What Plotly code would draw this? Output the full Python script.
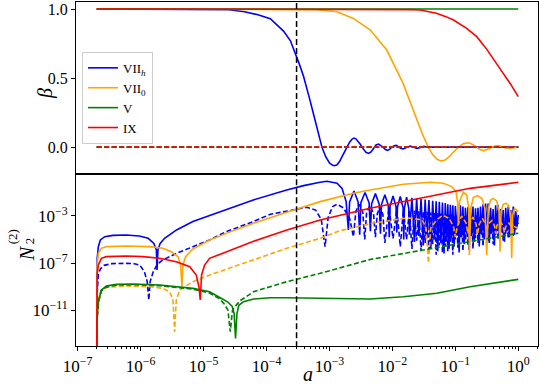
import numpy as np
import plotly.graph_objects as go
from plotly.subplots import make_subplots

# models and colours
models = ["VII<sub><i>h</i></sub>", "VII<sub>0</sub>", "V", "IX"]
colors = ["#0000ff", "#ffa500", "#008000", "#ff0000"]
a_mark = 3e-4  # vertical dashed marker

# ---- top panel: beta(a), x given as log10(a) ----
beta_VIIh_x = [-6.699, -5.0, -4.6, -4.35, -4.15, -3.94, -3.73, -3.62, -3.53, -3.47, -3.41, -3.36,
               -3.31, -3.26, -3.2, -3.16, -3.12, -3.06, -3.0, -2.95, -2.92, -2.88, -2.84, -2.8,
               -2.76, -2.72, -2.68, -2.64, -2.61, -2.58, -2.54, -2.51, -2.46, -2.42, -2.38, -2.34,
               -2.3, -2.26, -2.22, -2.18, -2.15, -2.11, -2.08, -2.04, -2.01, -1.97, -1.94, -1.91,
               -1.87, -1.83, -1.79, -1.75, -1.72, -1.68, -1.64, -1.61, -1.57, -1.53, -1.5, -1.46,
               -1.42, -1.38, -1.3, -1.2, 0.0]
beta_VIIh_y = [1.0, 1.0, 0.995, 0.98, 0.96, 0.93, 0.84, 0.77, 0.67, 0.59, 0.51, 0.43,
               0.34, 0.25, 0.15, 0.07, 0.0, -0.07, -0.115, -0.132, -0.135, -0.128, -0.105, -0.07,
               -0.035, 0.0, 0.035, 0.058, 0.065, 0.06, 0.04, 0.02, -0.015, -0.038, -0.046, -0.035,
               -0.01, 0.015, 0.022, 0.012, 0.0, -0.018, -0.024, -0.015, 0.0, 0.01, 0.012, 0.005,
               -0.008, -0.014, -0.006, 0.004, 0.007, 0.002, -0.006, -0.01, -0.004, 0.003, 0.005, 0.0,
               -0.004, 0.0, 0.002, 0.0, 0.0]
beta_VII0_x = [-6.699, -4.0, -3.41, -3.2, -2.88, -2.62, -2.35, -2.09, -1.83, -1.72, -1.61, -1.52,
               -1.43, -1.36, -1.29, -1.23, -1.17, -1.11, -1.06, -1.0, -0.95, -0.87, -0.79, -0.72,
               -0.66, -0.6, -0.55, -0.49, -0.42, -0.37, -0.32, -0.27, -0.2, -0.13, -0.07, 0.0]
beta_VII0_y = [1.0, 1.0, 1.0, 0.995, 0.981, 0.932, 0.848, 0.703, 0.461, 0.33, 0.196, 0.09,
               0.0, -0.055, -0.088, -0.1, -0.095, -0.075, -0.05, -0.022, 0.0, 0.025, 0.031, 0.018,
               0.0, -0.02, -0.027, -0.018, -0.002, 0.008, 0.011, 0.005, -0.006, -0.01, -0.004, 0.0]
beta_V_x = [-6.699, 0.0]
beta_V_y = [1.0, 1.0]
beta_IX_x = [-6.699, -2.5, -2.0, -1.7, -1.56, -1.3, -1.15, -1.03, -0.82, -0.66, -0.5, -0.34,
             -0.24, -0.13, 0.0]
beta_IX_y = [1.0, 1.0, 0.998, 0.996, 0.993, 0.97, 0.945, 0.92, 0.86, 0.8, 0.708, 0.606,
             0.534, 0.461, 0.365]
beta_zero_x = [-6.699, 0.0]
beta_zero_y = [0.0, 0.0]

# ---- bottom panel: N_2^(2)(a), log10(a) vs log10(N) ----
nVIIh_x = [-6.699, -6.69, -6.672, -6.64, -6.57, -6.44, -6.23, -6.02, -5.88, -5.79, -5.75, -5.74,
           -5.725, -5.69, -5.62, -5.43, -5.17, -4.905, -4.64, -4.21, -3.68, -3.41, -3.15, -3.04,
           -2.88, -2.8, -2.735, -2.7,
           -2.68, -2.61, -2.545, -2.52, -2.5, -2.435, -2.37, -2.35, -2.33, -2.27, -2.21, -2.19,
           -2.175, -2.12, -2.065, -2.05, -2.037, -1.99, -1.943, -1.93, -1.92, -1.875, -1.83, -1.82,
           -1.81, -1.775, -1.74, -1.73, -1.69, -1.65, -1.615, -1.58, -1.545, -1.51, -1.48, -1.45,
           -1.42, -1.39, -1.36, -1.33, -1.305, -1.28, -1.255, -1.23, -1.205, -1.18, -1.16, -1.14,
           -1.12, -1.1,
           -1.08, -1.06, -1.04, -1.02, -1.0, -0.98, -0.96, -0.94, -0.92, -0.9, -0.88, -0.86,
           -0.84, -0.82, -0.8, -0.78, -0.76, -0.74, -0.72, -0.7, -0.68, -0.66, -0.64, -0.62,
           -0.6, -0.58, -0.56, -0.54, -0.52, -0.5, -0.48, -0.46, -0.44, -0.42, -0.4, -0.38,
           -0.36, -0.34, -0.32, -0.3, -0.28, -0.26, -0.24, -0.22, -0.2, -0.18, -0.16, -0.14,
           -0.12, -0.1, -0.08, -0.06, -0.04, -0.02, 0.0]
nVIIh_y = [-16.0, -6.6, -5.61, -5.04, -4.76, -4.65, -4.62, -4.7, -4.9, -5.33, -5.89, -7.6,
           -5.89, -5.33, -4.9, -4.19, -3.48, -2.97, -2.43, -1.64, -0.79, -0.42, -0.13, -0.05,
           -0.22, -0.65, -1.78, -4.19,
           -1.8, -0.87, -1.8, -4.6, -1.85, -1.0, -1.9, -4.3, -1.95, -1.1, -2.0, -4.5,
           -2.05, -1.2, -2.1, -4.8, -2.15, -1.3, -2.2, -4.4, -2.25, -1.35, -2.3, -5.0,
           -2.35, -1.4, -2.35, -4.6, -1.45, -5.2, -1.5, -4.7, -1.55, -5.5, -1.6, -4.9,
           -1.65, -5.8, -1.7, -5.0, -1.75, -6.0, -1.8, -5.3, -1.85, -6.2, -1.9, -5.2,
           -2.0, -5.8,
           -2.05, -4.9, -2.1, -5.6, -2.15, -4.6, -2.2, -6.1, -2.1, -4.8, -2.2, -5.4,
           -2.3, -4.5, -2.25, -5.9, -2.3, -4.7, -2.2, -5.2, -2.35, -4.4, -2.3, -5.6,
           -2.2, -4.6, -2.0, -5.0, -1.95, -4.3, -1.95, -5.3, -2.3, -4.5, -2.4, -5.5,
           -2.1, -4.2, -2.05, -4.9, -2.4, -4.4, -2.5, -5.2, -2.3, -4.3, -2.2, -4.8,
           -2.5, -4.1, -2.2, -4.6, -2.6, -3.9, -2.9]

nVIIh_d_x = [-6.699, -6.69, -6.672, -6.64, -6.58, -6.45, -6.25, -6.1, -6.015, -5.94, -5.895, -5.87,
             -5.85, -5.8, -5.74, -5.65, -5.43, -5.17, -4.905, -4.64, -4.21, -3.94, -3.52, -3.36,
             -3.22, -3.13, -3.07, -3.02, -2.95, -2.88, -2.78, -2.68, -2.62, -2.58, -2.53, -2.47,
             -2.44, -2.41, -2.355, -2.3, -2.27, -2.24, -2.195, -2.15, -2.12, -2.055, -1.99, -1.93,
             -1.875, -1.825, -1.775, -1.73, -1.69, -1.65, -1.615, -1.58, -1.545, -1.51, -1.48, -1.45,
             -1.42, -1.39, -1.36, -1.33, -1.305, -1.28, -1.255, -1.23, -1.205, -1.18, -1.16, -1.14,
             -1.12, -1.1, -1.08, -1.06, -1.04, -1.02, -1.0, -0.98, -0.96, -0.94, -0.92, -0.9,
             -0.88, -0.86, -0.84, -0.82, -0.8, -0.78, -0.76, -0.74, -0.72, -0.7, -0.68, -0.66,
             -0.64, -0.62, -0.6, -0.58, -0.56, -0.54, -0.52, -0.5, -0.48, -0.46, -0.44, -0.42,
             -0.4, -0.38, -0.36, -0.34, -0.32, -0.3, -0.28, -0.26, -0.24, -0.22, -0.2, -0.18,
             -0.16, -0.14, -0.12, -0.1, -0.08, -0.06, -0.04, -0.02, 0.0]
nVIIh_d_y = [-16.0, -9.5, -8.0, -7.5, -7.2, -7.05, -7.03, -7.06, -7.17, -7.74, -8.6, -10.15,
             -8.6, -7.74, -7.15, -6.74, -6.18, -5.61, -5.04, -4.33, -3.48, -2.86, -2.43, -2.26,
             -2.5, -3.3, -5.61, -3.1, -2.2, -2.01, -2.3, -3.2, -4.76, -2.6, -2.0, -2.7,
             -5.0, -2.7, -2.1, -2.8, -4.8, -2.8, -2.2, -2.9, -5.3, -2.3, -4.9, -2.4,
             -5.6, -2.45, -5.0, -2.5, -5.8, -2.55, -5.1, -2.6, -6.0, -2.6, -5.3, -2.65,
             -6.2, -2.7, -5.4, -2.7, -6.3, -2.75, -5.5, -2.8, -6.1, -2.8, -5.6, -2.85,
             -6.0, -2.9, -5.2, -2.8, -6.3, -3.0, -5.0, -2.9, -5.7, -3.1, -4.8, -2.9,
             -6.0, -3.0, -5.1, -3.1, -5.5, -2.9, -4.7, -3.0, -5.8, -3.2, -4.9, -3.0,
             -5.3, -3.1, -4.6, -3.2, -5.6, -3.0, -4.8, -3.1, -5.2, -3.3, -4.5, -3.1,
             -5.4, -3.2, -4.6, -3.3, -5.0, -3.1, -4.4, -3.2, -5.1, -3.4, -4.5, -3.2,
             -4.9, -3.3, -4.3, -3.4, -4.7, -3.3, -4.2, -3.5, -3.7]

nVII0_x = [-6.699, -6.69, -6.672, -6.624, -6.545, -6.227, -5.857, -5.645, -5.513, -5.407, -5.365,
           -5.344, -5.328, -5.286, -5.17, -4.905, -4.64, -4.206, -3.677, -3.148, -2.62, -2.354,
           -1.825, -1.4, -1.19, -1.058, -0.99, -0.965, -0.952, -0.935, -0.873, -0.82, -0.788,
           -0.777, -0.756, -0.714, -0.65, -0.58, -0.529, -0.502, -0.476, -0.44, -0.396, -0.343,
           -0.306, -0.29, -0.275, -0.238, -0.195, -0.153, -0.121, -0.105, -0.09, -0.058, -0.026,
           0.0]
nVII0_y = [-16.0, -7.2, -6.18, -5.75, -5.61, -5.55, -5.61, -5.75, -6.04, -6.46, -7.17,
           -9.02, -7.17, -6.46, -5.81, -5.04, -4.48, -3.62, -2.69, -1.78, -1.07, -0.79,
           -0.3, -0.135, -0.22, -0.5, -0.93, -1.8, -3.77, -1.78, -0.99, -1.21, -2.35,
           -6.32, -2.35, -1.44, -1.27, -1.5, -2.35, -6.32, -2.35, -1.64, -1.5, -1.72,
           -2.63, -6.04, -2.63, -2.01, -1.92, -2.12, -2.91, -6.6, -2.91, -2.35, -2.49,
           -2.63]
nVII0_d_x = [-6.699, -6.69, -6.672, -6.624, -6.545, -6.227, -5.857, -5.645, -5.54, -5.487, -5.46,
             -5.434, -5.38, -5.17, -4.905, -4.64, -4.206, -3.677, -3.148, -2.83, -2.35, -1.77,
             -1.53, -1.465, -1.428, -1.39, -1.295, -1.2, -1.1, -1.03, -1.0, -0.97, -0.9,
             -0.83, -0.8, -0.77, -0.72, -0.67, -0.65, -0.62, -0.57, -0.52, -0.5, -0.48,
             -0.42, -0.38, -0.36, -0.34, -0.28, -0.24, -0.22, -0.2, -0.15, -0.11, -0.09,
             -0.07, 0.0]
nVII0_d_y = [-16.0, -11.5, -10.0, -9.3, -9.07, -8.96, -9.02, -9.16, -9.44, -10.15, -12.84,
             -10.15, -9.3, -8.59, -8.02, -7.54, -6.74, -5.75, -4.9, -4.25, -3.65, -3.17,
             -3.31, -4.02, -7.0, -4.02, -3.31, -2.95, -3.2, -3.9, -4.8, -3.9, -3.0,
             -3.6, -4.5, -3.6, -3.1, -3.7, -4.6, -3.7, -3.2, -3.7, -4.3, -3.7,
             -3.4, -3.8, -4.5, -3.8, -3.5, -3.9, -4.4, -3.9, -3.6, -3.9, -4.3,
             -3.9, -4.05]

nV_x = [-6.699, -6.69, -6.672, -6.624, -6.545, -6.386, -6.12, -5.7, -5.17, -4.905, -4.735, -4.62,
        -4.545, -4.515, -4.492, -4.47, -4.44, -4.365, -4.206, -3.94, -3.677, -3.148, -2.354,
        -1.825, -1.295, -0.766, 0.0]
nV_y = [-16.0, -11.5, -10.29, -9.3, -8.96, -8.82, -8.79, -8.87, -9.16, -9.44, -9.95, -10.3,
        -10.7, -11.3, -13.41, -11.3, -10.6, -10.29, -10.06, -9.95, -9.95, -10.0, -10.06,
        -9.87, -9.58, -9.02, -8.39]
nV_d_x = [-6.699, -6.69, -6.672, -6.624, -6.545, -6.386, -6.12, -5.7, -5.17, -4.905, -4.76, -4.68,
          -4.613, -4.576, -4.54, -4.5, -4.418, -4.206, -3.677, -3.148, -2.354, -1.454, -0.766, 0.0]
nV_d_y = [-16.0, -11.8, -10.4, -9.4, -9.05, -8.88, -8.85, -8.93, -9.22, -9.55, -10.0, -10.43,
          -11.0, -12.84, -11.0, -10.7, -10.2, -9.44, -8.59, -7.88, -6.7, -5.81, -5.18, -4.47]

nIX_x = [-6.699, -6.69, -6.672, -6.624, -6.545, -6.227, -5.963, -5.7, -5.434, -5.22, -5.116, -5.074,
         -5.053, -5.032, -4.984, -4.905, -4.735, -4.206, -3.677, -3.148, -2.354, -1.825, -1.296,
         -0.767, 0.0]
nIX_y = [-16.0, -8.0, -7.17, -6.6, -6.46, -6.4, -6.46, -6.6, -6.89, -7.31, -8.02, -9.02,
         -10.15, -8.02, -7.17, -6.6, -6.25, -5.15, -4.2, -3.35, -2.35, -1.78, -1.21,
         -0.65, -0.135]

beta_curves = [(beta_VIIh_x, beta_VIIh_y), (beta_VII0_x, beta_VII0_y),
               (beta_V_x, beta_V_y), (beta_IX_x, beta_IX_y)]
n_curves = [(nVIIh_x, nVIIh_y, nVIIh_d_x, nVIIh_d_y),
            (nVII0_x, nVII0_y, nVII0_d_x, nVII0_d_y),
            (nV_x, nV_y, nV_d_x, nV_d_y),
            (nIX_x, nIX_y, None, None)]

def p10(v):
    return np.power(10.0, np.array(v, dtype=float))

DASH = "5px,2.5px"
LW = 1.6

fig = make_subplots(rows=2, cols=1, shared_xaxes=True, vertical_spacing=0)

for name, col, (bx, by) in zip(models, colors, beta_curves):
    fig.add_trace(go.Scatter(x=p10(bx), y=by, mode="lines", name=name,
                             line=dict(color=col, width=LW)), row=1, col=1)
    fig.add_trace(go.Scatter(x=p10(beta_zero_x), y=beta_zero_y, mode="lines", showlegend=False,
                             line=dict(color=col, width=LW, dash=DASH)), row=1, col=1)

for col, (sx, sy, dx, dy) in zip(colors, n_curves):
    fig.add_trace(go.Scatter(x=p10(sx), y=p10(sy), mode="lines", showlegend=False,
                             line=dict(color=col, width=LW)), row=2, col=1)
    if dx is not None:
        fig.add_trace(go.Scatter(x=p10(dx), y=p10(dy), mode="lines", showlegend=False,
                                 line=dict(color=col, width=LW, dash=DASH)), row=2, col=1)

# vertical marker in both panels
fig.add_trace(go.Scatter(x=[a_mark, a_mark], y=[-0.5, 1.5], mode="lines", showlegend=False,
                         line=dict(color="black", width=1.5, dash="6px,3px")), row=1, col=1)
fig.add_trace(go.Scatter(x=[a_mark, a_mark], y=[1e-18, 1e3], mode="lines", showlegend=False,
                         line=dict(color="black", width=1.5, dash="6px,3px")), row=2, col=1)

FONT = "Liberation Serif, DejaVu Serif, serif"
xr = [-7.027, 0.313]
axis_common = dict(showline=True, mirror=True, linecolor="black", linewidth=1,
                   showgrid=False, zeroline=False, tickcolor="black", automargin=False)

xt = [1e-7, 1e-6, 1e-5, 1e-4, 1e-3, 1e-2, 1e-1, 1e0]
xt_txt = ["10<sup>\u22127</sup>", "10<sup>\u22126</sup>", "10<sup>\u22125</sup>",
          "10<sup>\u22124</sup>", "10<sup>\u22123</sup>", "10<sup>\u22122</sup>",
          "10<sup>\u22121</sup>", "10<sup>0</sup>"]
minor_vals = [m * 10.0 ** e for e in range(-8, 1) for m in range(2, 10)]

fig.update_xaxes(type="log", range=xr, ticks="", showticklabels=False, row=1, col=1, **axis_common)
fig.update_xaxes(type="log", range=xr, tickmode="array", tickvals=xt, ticktext=xt_txt,
                 ticks="outside", ticklen=4, ticklabelstandoff=1,
                 tickfont=dict(family=FONT, size=17, color="black"),
                 minor=dict(tickmode="array", tickvals=minor_vals, ticks="outside",
                            ticklen=2, tickcolor="black"),
                 row=2, col=1, **axis_common)
fig.update_yaxes(range=[-0.195, 1.051], tickmode="array", tickvals=[0, 0.5, 1.0],
                 ticktext=["0.0", "0.5", "1.0"], ticks="outside", ticklen=4,
                 tickfont=dict(family=FONT, size=16, color="black"),
                 row=1, col=1, **axis_common)
fig.update_yaxes(type="log", range=[-14.06, 0.57], tickmode="array",
                 tickvals=[1e-11, 1e-7, 1e-3],
                 ticktext=["10<sup>\u221211</sup>", "10<sup>\u22127</sup>", "10<sup>\u22123</sup>"],
                 ticks="outside", ticklen=4,
                 tickfont=dict(family=FONT, size=17, color="black"),
                 row=2, col=1, **axis_common)

def label(x, y, text, size, angle=0):
    fig.add_annotation(x=x, y=y, text=text, textangle=angle, xref="paper", yref="paper",
                       showarrow=False, font=dict(family=FONT, size=size, color="black"))

label(-0.095, 0.756, "<i>\u03b2</i>", 20, -90)
label(-0.134, 0.241, "<i>N</i>", 20, -90)
label(-0.121, 0.290, "2", 13, -90)
label(-0.158, 0.290, "(2)", 13, -90)
label(0.502, -0.12, "<i>a</i>", 20)

fig.update_layout(
    width=540, height=388,
    margin=dict(l=76, r=2, t=2, b=42, autoexpand=False),
    plot_bgcolor="white", paper_bgcolor="white",
    legend=dict(x=0.013, y=0.855, xanchor="left", yanchor="top",
                bgcolor="rgba(255,255,255,0.8)", bordercolor="#cccccc", borderwidth=1,
                font=dict(family=FONT, size=13, color="black"), itemwidth=30,
                tracegroupgap=0),
)

# the page body has a default 8px margin; remove it so the figure fills the window
fig.write_html("out.html", config={"displayModeBar": False},
               post_script="document.body.style.margin='0px';")
